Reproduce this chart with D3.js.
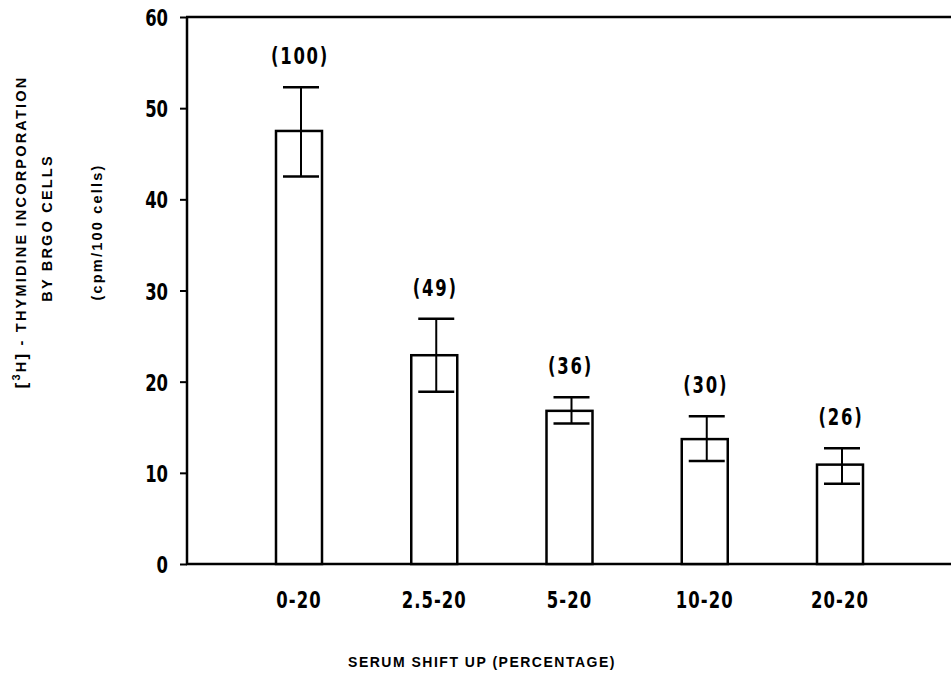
<!DOCTYPE html>
<html lang="en">
<head>
    <meta charset="UTF-8">
    <title>Thymidine incorporation</title>
    <script src="https://d3js.org/d3.v7.min.js"></script>
    <style>
        body { margin: 0; background: #fff; }
        .num { font-family: "DejaVu Sans", sans-serif; font-weight: bold; }
        .title { font-family: "Liberation Sans", Arial, sans-serif; font-weight: bold; }
    </style>
</head>
<body>
<script>

    // data
    var categories = ["0-20", "2.5-20", "5-20", "10-20", "20-20"]
    var means = [47.5, 22.9, 16.8, 13.7, 10.9]
    var errLow = [42.5, 18.9, 15.4, 11.3, 8.8]
    var errHigh = [52.3, 26.9, 18.3, 16.2, 12.7]
    var percents = ["(100)", "(49)", "(36)", "(30)", "(26)"]
    var yTicks = [0, 10, 20, 30, 40, 50, 60]

    var width = 951
    var height = 673

    var m = {left: 187, right: 951, top: 17, bottom: 564}
    var barWidth = 46

    var svg = d3.select("body").append("svg")
        .attr("width", width)
        .attr("height", height)

    var x = d3.scalePoint()
        .domain(categories)
        .range([299, 840])

    var y = d3.scaleLinear()
        .domain([0, 60])
        .range([m.bottom, m.top])

    // condensed-looking bold numbers (squeezed horizontally)
    function cond(cx, cy, s, anchor, ls) {
        return svg.append("text")
            .attr("class", "num")
            .attr("transform", "translate(" + cx + "," + cy + ") scale(0.7,1)")
            .attr("text-anchor", anchor)
            .attr("dominant-baseline", "central")
            .attr("font-size", 23.5)
            .attr("letter-spacing", ls || 0)
            .text(s)
    }

    // y axis ticks
    var yAxis = svg.append("g")
        .attr("transform", "translate(" + m.left + ",0)")
        .call(d3.axisLeft(y).tickValues(yTicks).tickSize(7).tickFormat(""))
    yAxis.select(".domain").remove()
    yAxis.selectAll(".tick line").attr("stroke", "#000").attr("stroke-width", 2)
    yTicks.forEach(function (t) {
        cond(168, y(t) + 1, t, "end")
    })

    // frame: left, top, bottom
    svg.append("line")
        .attr("x1", m.left).attr("y1", m.top).attr("x2", m.left).attr("y2", m.bottom)
        .attr("stroke", "#000").attr("stroke-width", 2.5)
    svg.append("line")
        .attr("x1", m.left - 1).attr("y1", m.top).attr("x2", m.right).attr("y2", m.top)
        .attr("stroke", "#000").attr("stroke-width", 2.5)
    svg.append("line")
        .attr("x1", m.left - 1).attr("y1", m.bottom).attr("x2", m.right).attr("y2", m.bottom)
        .attr("stroke", "#000").attr("stroke-width", 2.5)

    // bars
    svg.selectAll(".bar")
        .data(categories)
        .enter().append("rect")
        .attr("class", "bar")
        .attr("x", function (d) { return x(d) - barWidth / 2 })
        .attr("y", function (d, i) { return y(means[i]) })
        .attr("width", barWidth)
        .attr("height", function (d, i) { return y(0) - y(means[i]) })
        .attr("fill", "#fff")
        .attr("stroke", "#000")
        .attr("stroke-width", 2.5)

    // error bars + percentage labels
    var capW = 36
    categories.forEach(function (d, i) {
        var cx = x(d) + 2
        svg.append("line")
            .attr("x1", cx).attr("x2", cx)
            .attr("y1", y(errLow[i])).attr("y2", y(errHigh[i]))
            .attr("stroke", "#000").attr("stroke-width", 2)
        svg.append("line")
            .attr("x1", cx - capW / 2).attr("x2", cx + capW / 2)
            .attr("y1", y(errHigh[i])).attr("y2", y(errHigh[i]))
            .attr("stroke", "#000").attr("stroke-width", 2.5)
        svg.append("line")
            .attr("x1", cx - capW / 2).attr("x2", cx + capW / 2)
            .attr("y1", y(errLow[i])).attr("y2", y(errLow[i]))
            .attr("stroke", "#000").attr("stroke-width", 2.5)

        cond(x(d) + 1, y(errHigh[i]) - 31, percents[i], "middle", 2.5)
    })

    // x tick labels
    categories.forEach(function (d) {
        cond(x(d), 600, d, "middle", 1.5)
    })

    // x title
    svg.append("text")
        .attr("class", "title")
        .attr("x", 482)
        .attr("y", 662)
        .attr("text-anchor", "middle")
        .attr("dominant-baseline", "central")
        .attr("font-size", 14)
        .attr("letter-spacing", 1.5)
        .text("SERUM SHIFT UP (PERCENTAGE)")

    // y title, three rotated lines
    var ytitle = [
        {x: 21, y: 232, t: " - THYMIDINE INCORPORATION", sup: true},
        {x: 47, y: 228, t: "BY BRGO CELLS"},
        {x: 97, y: 232, t: "(cpm/100 cells)"}
    ]
    ytitle.forEach(function (l) {
        var t = svg.append("text")
            .attr("class", "title")
            .attr("transform", "translate(" + l.x + "," + l.y + ") rotate(-90)")
            .attr("text-anchor", "middle")
            .attr("dominant-baseline", "central")
            .attr("font-size", 14.5)
            .attr("letter-spacing", 2.2)
        if (l.sup) {
            t.append("tspan").attr("font-size", 17).text("[")
            t.append("tspan").attr("font-size", 11).attr("dy", -5).text("3")
            t.append("tspan").attr("font-size", 14.5).attr("dy", 5).text("H")
            t.append("tspan").attr("font-size", 17).text("]")
            t.append("tspan").text(" " + l.t)
        } else {
            t.text(l.t)
        }
    })

</script>
</body>
</html>
